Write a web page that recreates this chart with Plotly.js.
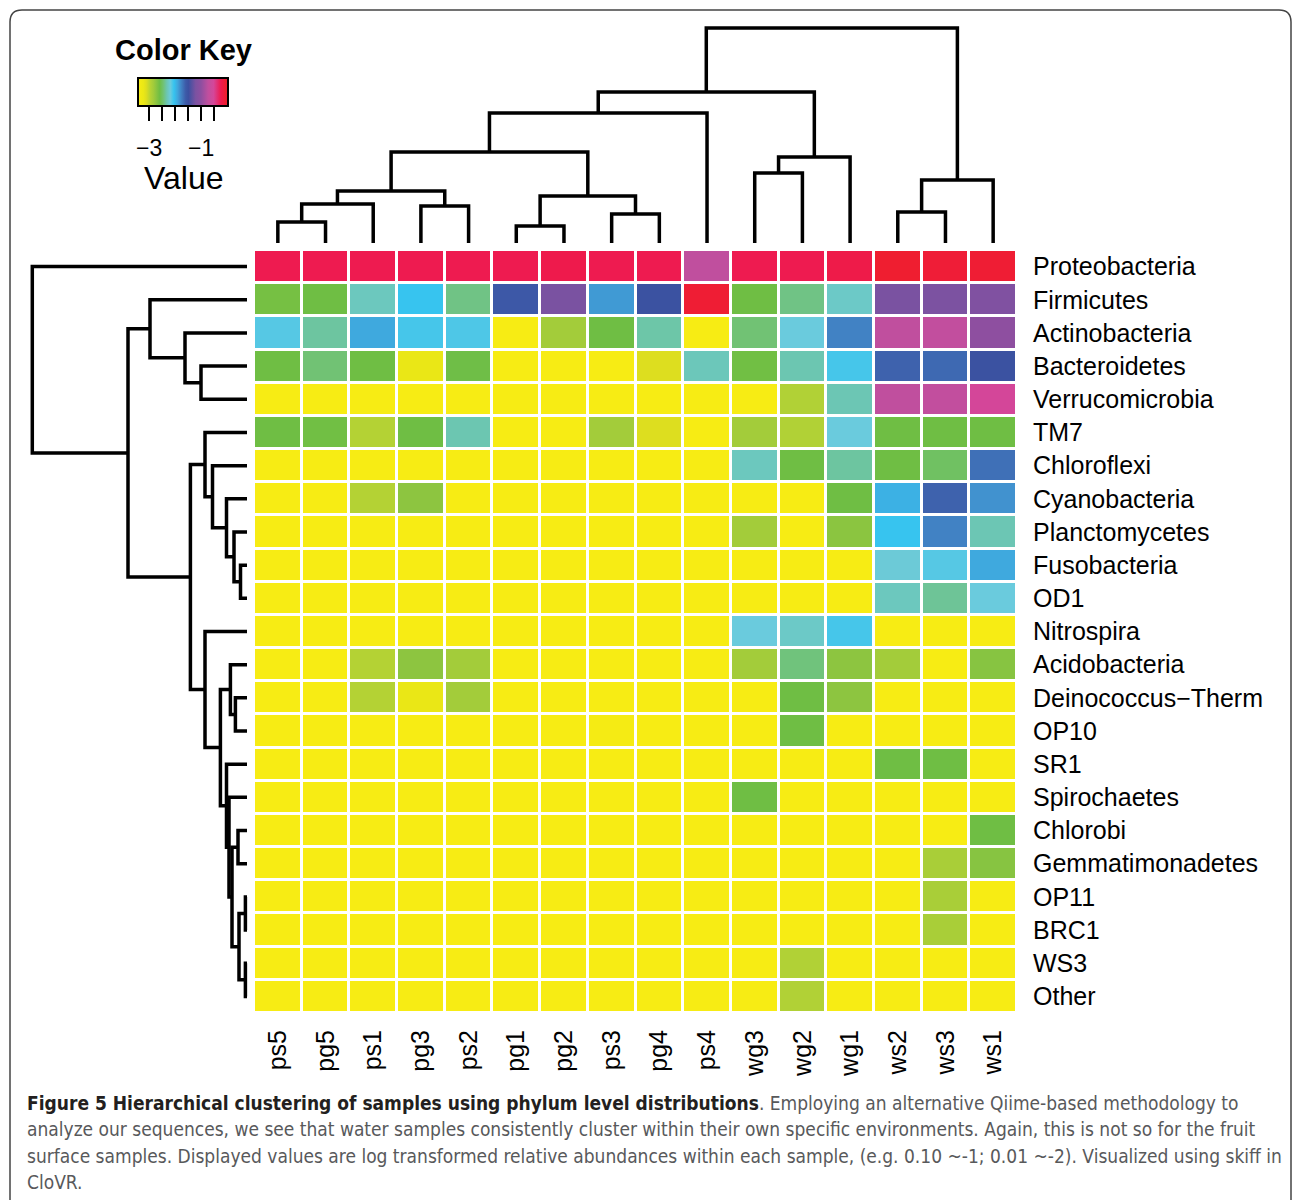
<!DOCTYPE html>
<html><head><meta charset="utf-8">
<script src="https://cdn.plot.ly/plotly-3.0.1.min.js"></script>
<style>body{margin:0;background:#fff}#chart{width:1293px;height:1200px}</style>
</head><body><div id="chart"></div>
<script>
// ---------- data ----------
const samples = ['ps5','pg5','ps1','pg3','ps2','pg1','pg2','ps3','pg4','ps4','wg3','wg2','wg1','ws2','ws3','ws1'];
const phyla = ['Proteobacteria','Firmicutes','Actinobacteria','Bacteroidetes','Verrucomicrobia','TM7','Chloroflexi',
  'Cyanobacteria','Planctomycetes','Fusobacteria','OD1','Nitrospira','Acidobacteria','Deinococcus\u2212Therm',
  'OP10','SR1','Spirochaetes','Chlorobi','Gemmatimonadetes','OP11','BRC1','WS3','Other'];

const proteobacteria   = [-0.24,-0.24,-0.24,-0.24,-0.24,-0.24,-0.22,-0.24,-0.24,-0.72,-0.24,-0.24,-0.20,-0.04,-0.08,-0.06];
const firmicutes       = [-2.62,-2.59,-2.27,-2.04,-2.41,-1.57,-1.21,-1.85,-1.50,-0.06,-2.59,-2.41,-2.24,-1.21,-1.20,-1.15];
const actinobacteria   = [-2.12,-2.35,-1.91,-2.08,-2.10,-3.40,-2.83,-2.59,-2.33,-3.40,-2.45,-2.17,-1.76,-0.72,-0.70,-1.00];
const bacteroidetes    = [-2.59,-2.45,-2.59,-3.20,-2.58,-3.40,-3.40,-3.40,-3.10,-2.28,-2.60,-2.31,-2.08,-1.62,-1.65,-1.50];
const verrucomicrobia  = [-3.40,-3.40,-3.40,-3.40,-3.40,-3.40,-3.40,-3.40,-3.40,-3.40,-3.40,-2.92,-2.30,-0.72,-0.70,-0.51];
const tm7              = [-2.59,-2.60,-2.94,-2.59,-2.31,-3.40,-3.40,-2.83,-3.10,-3.40,-2.83,-2.92,-2.17,-2.59,-2.59,-2.59];
const chloroflexi      = [-3.40,-3.40,-3.40,-3.40,-3.40,-3.40,-3.40,-3.40,-3.40,-3.40,-2.27,-2.59,-2.35,-2.59,-2.50,-1.68];
const cyanobacteria    = [-3.40,-3.40,-2.94,-2.73,-3.40,-3.40,-3.40,-3.40,-3.40,-3.40,-3.40,-3.40,-2.59,-1.95,-1.62,-1.82];
const planctomycetes   = [-3.40,-3.40,-3.40,-3.40,-3.40,-3.40,-3.40,-3.40,-3.40,-3.40,-2.83,-3.40,-2.72,-2.04,-1.76,-2.30];
const fusobacteria     = [-3.40,-3.40,-3.40,-3.40,-3.40,-3.40,-3.40,-3.40,-3.40,-3.40,-3.40,-3.40,-3.40,-2.19,-2.12,-1.91];
const od1              = [-3.40,-3.40,-3.40,-3.40,-3.40,-3.40,-3.40,-3.40,-3.40,-3.40,-3.40,-3.40,-3.40,-2.27,-2.37,-2.17];
const nitrospira       = [-3.40,-3.40,-3.40,-3.40,-3.40,-3.40,-3.40,-3.40,-3.40,-3.40,-2.17,-2.24,-2.08,-3.40,-3.40,-3.40];
const acidobacteria    = [-3.40,-3.40,-2.94,-2.73,-2.83,-3.40,-3.40,-3.40,-3.40,-3.40,-2.83,-2.43,-2.73,-2.83,-3.40,-2.70];
const deinococcus      = [-3.40,-3.40,-2.94,-3.20,-2.83,-3.40,-3.40,-3.40,-3.40,-3.40,-3.40,-2.59,-2.73,-3.40,-3.40,-3.40];
const op10             = [-3.40,-3.40,-3.40,-3.40,-3.40,-3.40,-3.40,-3.38,-3.40,-3.40,-3.40,-2.59,-3.40,-3.40,-3.40,-3.40];
const sr1              = [-3.40,-3.40,-3.40,-3.40,-3.40,-3.40,-3.40,-3.40,-3.40,-3.40,-3.40,-3.40,-3.40,-2.59,-2.59,-3.40];
const spirochaetes     = [-3.40,-3.40,-3.40,-3.40,-3.40,-3.40,-3.40,-3.40,-3.40,-3.40,-2.59,-3.40,-3.40,-3.40,-3.40,-3.40];
const chlorobi         = [-3.40,-3.40,-3.40,-3.40,-3.40,-3.40,-3.40,-3.40,-3.40,-3.40,-3.40,-3.40,-3.40,-3.40,-3.40,-2.59];
const gemmatimonadetes = [-3.40,-3.40,-3.40,-3.40,-3.40,-3.40,-3.40,-3.40,-3.40,-3.40,-3.40,-3.40,-3.40,-3.40,-2.87,-2.70];
const op11             = [-3.40,-3.40,-3.40,-3.40,-3.40,-3.40,-3.40,-3.40,-3.40,-3.40,-3.40,-3.40,-3.40,-3.40,-2.87,-3.40];
const brc1             = [-3.40,-3.40,-3.40,-3.40,-3.40,-3.40,-3.40,-3.40,-3.40,-3.40,-3.40,-3.40,-3.40,-3.40,-2.87,-3.40];
const ws3              = [-3.40,-3.40,-3.40,-3.40,-3.40,-3.40,-3.40,-3.40,-3.40,-3.40,-3.40,-2.92,-3.40,-3.40,-3.40,-3.40];
const other            = [-3.40,-3.40,-3.40,-3.40,-3.40,-3.40,-3.40,-3.40,-3.40,-3.40,-3.40,-2.92,-3.40,-3.40,-3.40,-3.40];

// column dendrogram (hclust-style merges: negative = leaf index, positive = earlier merge)
const colMergeA = [-1, 1, -4, 2, -6, -8, 5, 4, 8, -11, 10, 9, -14, 13, 12];
const colMergeB = [-2, -3, -5, 3, -7, -9, 6, 7, -10, -12, -13, 11, -15, -16, 14];
const colMergeH = [21, 39, 37, 52, 17, 29, 47, 91, 130, 70, 86, 151, 31, 63, 215];

// row dendrogram
const rowMergeA = [-4, -3, -2, -10, -9, -8, -7, -6, -14, -13, -18, -20, -22, 12, 11, -17, -16, 10, -12, 8, 3, -1];
const rowMergeB = [-5, 1, 2, -11, 4, 5, 6, 7, -15, 9, -19, -21, -23, 13, 14, 15, 16, 17, 18, 19, 20, 21];
const rowMergeH = [46, 62, 97, 6.5, 13, 20.5, 34.5, 42, 11.6, 16.6, 9, 1.6, 1.6, 8, 15, 18, 20.5, 26.6, 42, 56.6, 119, 214.7];

const keyTickVals = [-3, -2.5, -2, -1.5, -1, -0.5];
const keyLabelVals = [-3, -1];
const keyLabelText = ['\u22123', '\u22121'];

const captionBold = 'Figure 5 Hierarchical clustering of samples using phylum level distributions';
const captionLines = [
  '. Employing an alternative Qiime-based methodology to',
  'analyze our sequences, we see that water samples consistently cluster within their own specific environments. Again, this is not so for the fruit',
  'surface samples. Displayed values are log transformed relative abundances within each sample, (e.g. 0.10 ~-1; 0.01 ~-2). Visualized using skiff in',
  'CloVR.'
];

// ---------- layout helpers ----------
const W = 1293, H = 1200;
const px = x => x / W;
const py = y => 1 - y / H;
const FONT = "'Liberation Sans', Arial, sans-serif";
const zmin = -3.42, zmax = 0.04;

const colorscale = [
  [0.00, '#f8ec14'], [0.06, '#ebe815'], [0.09, '#dfdf1e'], [0.14, '#b3d235'], [0.17, '#a3cc3a'],
  [0.20, '#8dc540'], [0.24, '#6fbe44'], [0.28, '#71c273'], [0.32, '#6cc6b0'], [0.36, '#6ccbdc'],
  [0.40, '#35c4f0'], [0.44, '#40a6dc'], [0.48, '#4182c4'], [0.53, '#3d5aa8'], [0.56, '#3b50a0'],
  [0.64, '#7b52a1'], [0.70, '#8e4fa0'], [0.78, '#c04f9e'], [0.84, '#d4479a'], [0.92, '#ee1a4f'],
  [1.00, '#ef1f24']
];

function dendro(A, B, Hh) {
  const pos = [], ht = [], P = [], Q = [];
  const get = i => i < 0 ? [-i - 1, 0] : [pos[i - 1], ht[i - 1]];
  for (let k = 0; k < A.length; k++) {
    const [p1, h1] = get(A[k]);
    const [p2, h2] = get(B[k]);
    const h = Hh[k];
    P.push(p1, p1, p2, p2, null);
    Q.push(h1, h, h, h2, null);
    pos[k] = (p1 + p2) / 2; ht[k] = h;
  }
  return {pos: P, h: Q};
}

const z = [proteobacteria, firmicutes, actinobacteria, bacteroidetes, verrucomicrobia, tm7, chloroflexi,
  cyanobacteria, planctomycetes, fusobacteria, od1, nitrospira, acidobacteria, deinococcus, op10, sr1,
  spirochaetes, chlorobi, gemmatimonadetes, op11, brc1, ws3, other];

const cbLeft = 138, cbLen = 90;
const colD = dendro(colMergeA, colMergeB, colMergeH);
const rowD = dendro(rowMergeA, rowMergeB, rowMergeH);

const traces = [
  {
    type: 'heatmap', x: samples, y: phyla, z: z, xaxis: 'x', yaxis: 'y',
    zmin: zmin, zmax: zmax, colorscale: colorscale, xgap: 3, ygap: 3, hoverinfo: 'x+y+z',
    showscale: true,
    colorbar: {
      orientation: 'h', x: px(cbLeft), xanchor: 'left', y: py(78), yanchor: 'top',
      len: cbLen, lenmode: 'pixels', thickness: 28, thicknessmode: 'pixels',
      xpad: 0, ypad: 0, outlinewidth: 2, outlinecolor: '#000',
      tickvals: keyTickVals, ticks: 'outside', ticklen: 14, tickwidth: 2, tickcolor: '#000',
      showticklabels: false
    }
  },
  {type: 'scatter', mode: 'lines', x: colD.pos, y: colD.h, xaxis: 'x2', yaxis: 'y2',
   line: {color: '#000', width: 3.5}, hoverinfo: 'skip', showlegend: false},
  {type: 'scatter', mode: 'lines', x: rowD.h, y: rowD.pos, xaxis: 'x3', yaxis: 'y3',
   line: {color: '#000', width: 3.5}, hoverinfo: 'skip', showlegend: false}
];

const hmX = [px(254), px(1017)];
const hmY = [py(1013), py(250)];

const annotations = [
  {text: '<b>Color Key</b>', x: px(183), y: py(50), xref: 'paper', yref: 'paper', showarrow: false,
   font: {family: FONT, size: 29, color: '#000'}, xanchor: 'center', yanchor: 'middle'},
  {text: 'Value', x: px(183), y: py(178), xref: 'paper', yref: 'paper', showarrow: false,
   font: {family: FONT, size: 32, color: '#000'}, xanchor: 'center', yanchor: 'middle', borderpad: 0}
];
keyLabelVals.forEach((v, i) => {
  annotations.push({text: keyLabelText[i], x: px(cbLeft + (v - zmin) / (zmax - zmin) * cbLen), y: py(148),
    xref: 'paper', yref: 'paper', showarrow: false, font: {family: FONT, size: 23, color: '#000'},
    xanchor: 'center', yanchor: 'middle', borderpad: 0});
});
const capFont = "'Liberation Sans Narrow', 'DejaVu Sans Condensed', 'Liberation Sans', sans-serif";
const capY = [1103, 1129, 1156, 1182];
captionLines.forEach((t, i) => {
  const txt = (i === 0 ? '<b>' + captionBold + '</b>' : '') + '<span style="color:#58595b">' + t + '</span>';
  annotations.push({text: txt, x: px(25), y: py(capY[i]), xref: 'paper', yref: 'paper', showarrow: false,
    xanchor: 'left', yanchor: 'middle', align: 'left', font: {family: capFont, size: 19, color: '#231f20'}});
});

// frame
const fx0 = px(10), fx1 = px(1291), fyt = py(10), fyb = py(1215), rx = 12 / W, ry = 12 / H;
const framePath = `M ${fx0},${fyb} L ${fx0},${fyt - ry} Q ${fx0},${fyt} ${fx0 + rx},${fyt} L ${fx1 - rx},${fyt} Q ${fx1},${fyt} ${fx1},${fyt - ry} L ${fx1},${fyb}`;

const layout = {
  width: W, height: H, margin: {l: 0, r: 0, t: 0, b: 0},
  paper_bgcolor: '#fff', plot_bgcolor: 'rgba(0,0,0,0)', showlegend: false,
  font: {family: FONT, color: '#000'},
  xaxis: {domain: hmX, anchor: 'y', type: 'category', range: [-0.5, 15.5], tickangle: -90, ticks: '',
          ticklabelstandoff: 11, tickfont: {size: 25, family: FONT, color: '#000'},
          showgrid: false, zeroline: false, showline: false},
  yaxis: {domain: hmY, anchor: 'x', type: 'category', range: [22.5, -0.5], side: 'right', ticks: '',
          ticklabelstandoff: 15, tickfont: {size: 25, family: FONT, color: '#000'},
          showgrid: false, zeroline: false, showline: false},
  xaxis2: {domain: hmX, anchor: 'y2', range: [-0.5, 15.5], visible: false},
  yaxis2: {domain: [py(245), py(15)], anchor: 'x2', range: [-2, 228], visible: false},
  xaxis3: {domain: [px(15), px(249)], anchor: 'y3', range: [232, -2], visible: false},
  yaxis3: {domain: hmY, anchor: 'x3', range: [22.5, -0.5], visible: false},
  annotations: annotations,
  shapes: [{type: 'path', xref: 'paper', yref: 'paper', path: framePath, line: {color: '#444', width: 1.5}}]
};

Plotly.newPlot('chart', traces, layout, {staticPlot: true});
</script></body></html>
